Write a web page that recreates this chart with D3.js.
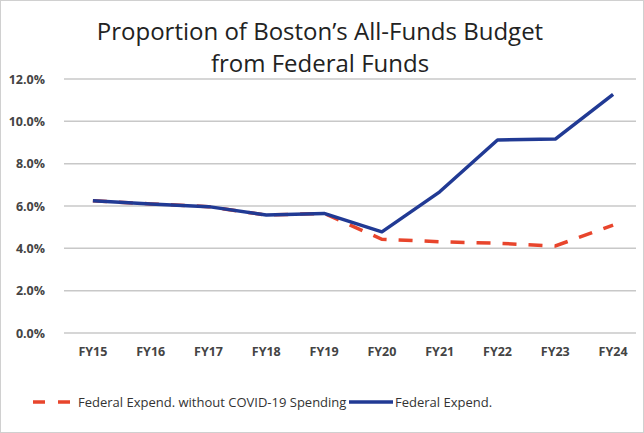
<!DOCTYPE html>
<html>
<head>
<meta charset="utf-8">
<script src="https://cdn.jsdelivr.net/npm/d3@7"></script>
<style>
  body { margin: 0; background: #fff; }
  svg { display: block; font-family: "Open Sans", "Noto Sans", sans-serif; }
</style>
</head>
<body>
<div id="chart"></div>
<script>
// Data
var years = ["FY15", "FY16", "FY17", "FY18", "FY19", "FY20", "FY21", "FY22", "FY23", "FY24"];
var federalExpend = [6.25, 6.1, 5.97, 5.57, 5.65, 4.78, 6.67, 9.12, 9.16, 11.27];
var withoutCovid = [6.25, 6.1, 5.97, 5.57, 5.65, 4.43, 4.31, 4.24, 4.11, 5.1];
var yTicks = [0, 2, 4, 6, 8, 10, 12];
var titleLines = ["Proportion of Boston\u2019s All-Funds Budget", "from Federal Funds"];

var W = 644, H = 433;
var margin = { top: 79, right: 2, bottom: 100, left: 64 },
    width = W - margin.left - margin.right,
    height = H - margin.top - margin.bottom;

var svg = d3.select("#chart")
    .append("svg")
    .attr("width", W)
    .attr("height", H);

// frame
svg.append("rect")
    .attr("x", 0.5).attr("y", 0.5)
    .attr("width", W - 1).attr("height", H - 1)
    .attr("fill", "#fff")
    .attr("stroke", "#d0d0d0");

// title
svg.append("text")
    .attr("x", 320)
    .attr("y", 40)
    .attr("text-anchor", "middle")
    .style("font-size", "24px")
    .style("fill", "#222")
    .selectAll("tspan")
    .data(titleLines)
    .enter().append("tspan")
    .attr("x", 320)
    .attr("dy", function(d, i) { return i === 0 ? 0 : 32; })
    .text(function(d) { return d; });

var g = svg.append("g")
    .attr("transform", "translate(" + margin.left + "," + margin.top + ")");

var x = d3.scaleBand()
    .domain(years)
    .range([0, width]);

var y = d3.scaleLinear()
    .domain([0, 12])
    .range([height, 0]);

// gridlines
g.append("g")
    .selectAll("line")
    .data(yTicks)
    .enter().append("line")
    .attr("x1", 0)
    .attr("x2", width - 6)
    .attr("y1", function(d) { return y(d); })
    .attr("y2", function(d) { return y(d); })
    .attr("stroke", "#c8c8c8")
    .attr("stroke-width", 1.5);

// Y axis labels
var yAxis = g.append("g")
    .attr("transform", "translate(-16,0)")
    .call(d3.axisLeft(y).tickValues(yTicks).tickSize(0).tickFormat(function(d) { return d3.format(".1f")(d) + "%"; }));
yAxis.select(".domain").remove();
yAxis.selectAll("text")
    .style("font-size", "12.5px")
    .style("font-weight", "bold")
    .style("fill", "#444")
    .style("font-family", "\"Open Sans\", sans-serif");

// X axis labels
var xAxis = g.append("g")
    .attr("transform", "translate(0," + (height + 11) + ")")
    .call(d3.axisBottom(x).tickSize(0));
xAxis.select(".domain").remove();
xAxis.selectAll("text")
    .style("font-size", "12.5px")
    .style("font-weight", "bold")
    .style("fill", "#444")
    .style("font-family", "\"Open Sans\", sans-serif");

var line = d3.line()
    .x(function(d, i) { return x(years[i]) + x.bandwidth() / 2; })
    .y(function(d) { return y(d); });

var red = "#e8452c", blue = "#213a94";

g.append("path")
    .datum(withoutCovid)
    .attr("fill", "none")
    .attr("stroke", red)
    .attr("stroke-width", 3.5)
    .attr("stroke-dasharray", "14,12")
    .attr("d", line);

g.append("path")
    .datum(federalExpend)
    .attr("fill", "none")
    .attr("stroke", blue)
    .attr("stroke-width", 3.5)
    .attr("stroke-linejoin", "round")
    .attr("d", line);

// legend
var legend = svg.append("g")
    .attr("transform", "translate(0,402)");

legend.append("line")
    .attr("x1", 33).attr("x2", 76)
    .attr("stroke", red)
    .attr("stroke-width", 3.5)
    .attr("stroke-dasharray", "12,13");

legend.append("text")
    .attr("x", 78).attr("dy", "0.35em")
    .style("font-size", "13px")
    .style("fill", "#333")
    .text("Federal Expend. without COVID-19 Spending");

legend.append("line")
    .attr("x1", 349).attr("x2", 393)
    .attr("stroke", blue)
    .attr("stroke-width", 3.5);

legend.append("text")
    .attr("x", 395).attr("dy", "0.35em")
    .style("font-size", "13px")
    .style("fill", "#333")
    .text("Federal Expend.");
</script>
</body>
</html>
